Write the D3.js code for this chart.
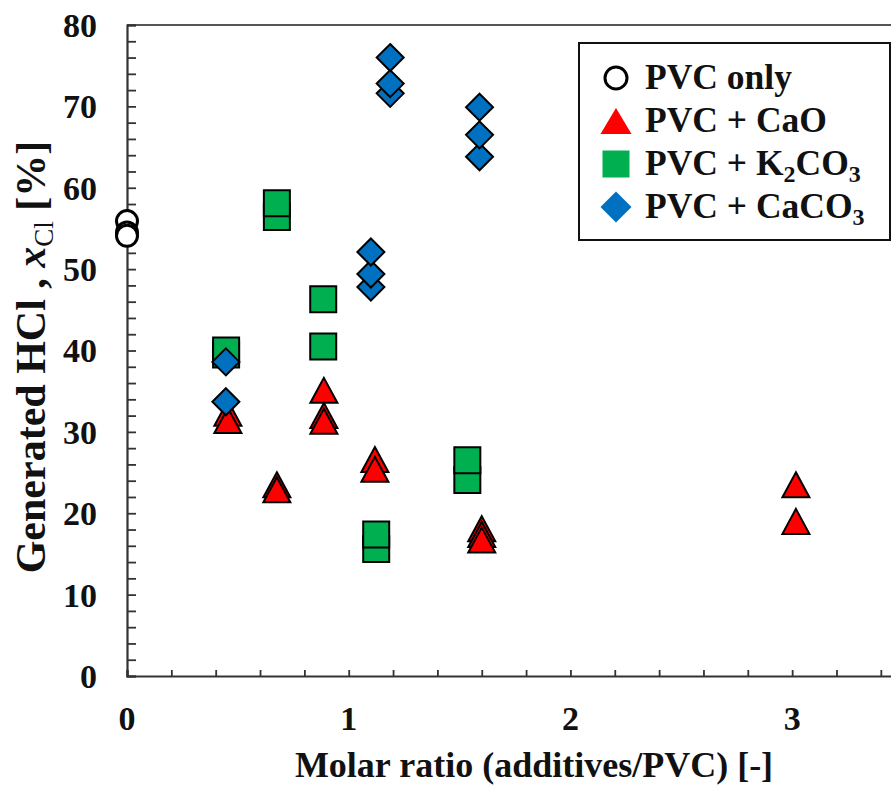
<!DOCTYPE html>
<html>
<head>
<meta charset="utf-8">
<script src="https://cdn.jsdelivr.net/npm/d3@7"></script>
<style>
  html, body { margin: 0; padding: 0; background: #fff; }
  svg { display: block; }
  text { font-family: "Liberation Serif", "Times New Roman", serif; font-weight: bold; fill: #111; }
</style>
</head>
<body>
<svg id="chart" width="891" height="785"></svg>
<script>
// Molar ratio (additives/PVC) and generated HCl [%] for each sample series
const pvcOnlyX = [0, 0, 0];
const pvcOnlyY = [55.9, 54.5, 54.1];

const caoX = [0.455, 0.455, 0.676, 0.676, 0.888, 0.888, 0.888, 1.118, 1.118, 1.60, 1.60, 1.60, 3.017, 3.017];
const caoY = [32.3, 31.4, 23.5, 22.9, 35.1, 32.0, 31.3, 26.6, 25.4, 18.1, 17.4, 16.7, 23.5, 19.0];

const k2co3X = [0.447, 0.447, 0.676, 0.676, 0.885, 0.885, 1.124, 1.124, 1.535, 1.535];
const k2co3Y = [39.5, 40.0, 56.4, 58.1, 40.5, 46.3, 15.6, 17.4, 24.1, 26.5];

const caco3X = [0.446, 0.446, 1.10, 1.10, 1.10, 1.187, 1.187, 1.187, 1.59, 1.59, 1.59];
const caco3Y = [38.6, 33.7, 47.8, 49.4, 52.1, 71.6, 72.8, 76.0, 63.8, 66.5, 69.9];

const yTicks = [0, 10, 20, 30, 40, 50, 60, 70, 80];
const xTicks = [0, 1, 2, 3];
const legendLabels = ["PVC only", "PVC + CaO", "PVC + K|2|CO|3", "PVC + CaCO|3"];

const svg = d3.select("#chart");
const x = d3.scaleLinear().domain([0, 3.5]).range([127, 903]);
const y = d3.scaleLinear().domain([0, 80]).range([676, 25]);

// Frame: top border and axes
svg.append("line").attr("x1", 127).attr("x2", 891).attr("y1", y(80)).attr("y2", y(80))
  .attr("stroke", "#555").attr("stroke-width", 2);

const yAxis = d3.axisRight(y).tickValues(d3.range(0, 81, 2)).tickSize(9).tickFormat("");
svg.append("g").attr("transform", `translate(${x(0)},0)`).call(yAxis)
  .call(g => g.select(".domain").attr("stroke", "#333").attr("stroke-width", 2.2))
  .call(g => g.selectAll(".tick line").attr("stroke", "#333").attr("stroke-width", 1.8));

const xAxis = d3.axisTop(x).tickValues(d3.range(0, 3.51, 0.2)).tickSize(6).tickFormat("");
svg.append("g").attr("transform", `translate(0,${y(0)})`).call(xAxis)
  .call(g => g.select(".domain").attr("stroke", "#333").attr("stroke-width", 2.2))
  .call(g => g.selectAll(".tick line").attr("stroke", "#333").attr("stroke-width", 1.8));

// Tick labels
svg.append("g").selectAll("text").data(yTicks).join("text")
  .attr("x", 97).attr("y", d => y(d)).attr("dy", "0.35em")
  .attr("text-anchor", "end").style("font-size", "34px").text(d => d);

svg.append("g").selectAll("text").data(xTicks).join("text")
  .attr("x", d => x(d)).attr("y", 730)
  .attr("text-anchor", "middle").style("font-size", "34px").text(d => d);

// Axis titles
svg.append("text").attr("x", 534).attr("y", 777).attr("text-anchor", "middle")
  .style("font-size", "36px").text("Molar ratio (additives/PVC) [-]");

const yTitle = svg.append("text").attr("transform", "translate(45,357) rotate(-90)")
  .attr("text-anchor", "middle").style("font-size", "42px");
yTitle.append("tspan").text("Generated HCl , ");
yTitle.append("tspan").style("font-style", "italic").text("x");
yTitle.append("tspan").attr("dy", 8).style("font-size", "27px").style("font-weight", "normal").text("Cl");
yTitle.append("tspan").attr("dy", -8).text(" [%]");

// Marker shapes
const shapes = {
  circle: r => `M${-r},0A${r},${r} 0 1,0 ${r},0A${r},${r} 0 1,0 ${-r},0Z`,
  triangle: (w, h) => `M0,${-h / 2}L${w / 2},${h / 2}L${-w / 2},${h / 2}Z`,
  square: s => `M${-s / 2},${-s / 2}h${s}v${s}h${-s}Z`,
  diamond: s => `M0,${-s / 2}L${s / 2},0L0,${s / 2}L${-s / 2},0Z`
};

function drawSeries(xs, ys, path, fill, stroke, sw) {
  svg.append("g").selectAll("path").data(xs.map((d, i) => [d, ys[i]])).join("path")
    .attr("transform", d => `translate(${x(d[0])},${y(d[1])})`)
    .attr("d", path).attr("fill", fill).attr("stroke", stroke).attr("stroke-width", sw)
    .attr("stroke-linejoin", "miter");
}

drawSeries(pvcOnlyX, pvcOnlyY, shapes.circle(10.5), "#fff", "#000", 3);
drawSeries(caoX, caoY, shapes.triangle(27, 25), "#ff0000", "#000", 2);
drawSeries(k2co3X, k2co3Y, shapes.square(26), "#00b050", "#000", 2);
drawSeries(caco3X, caco3Y, shapes.diamond(27), "#0070c0", "#000", 2);

// Legend
const lg = svg.append("g");
lg.append("rect").attr("x", 579).attr("y", 43).attr("width", 311).attr("height", 197)
  .attr("fill", "#fff").attr("stroke", "#111").attr("stroke-width", 2);

const legendShapes = [
  { d: shapes.circle(11), fill: "#fff", stroke: "#000", sw: 3 },
  { d: shapes.triangle(31, 26), fill: "#ff0000", stroke: "none", sw: 0 },
  { d: shapes.square(27), fill: "#00b050", stroke: "none", sw: 0 },
  { d: shapes.diamond(31), fill: "#0070c0", stroke: "none", sw: 0 }
];
const rowY = [78, 121, 164, 207];
legendShapes.forEach((s, i) => {
  lg.append("path").attr("transform", `translate(616,${rowY[i]})`).attr("d", s.d)
    .attr("fill", s.fill).attr("stroke", s.stroke).attr("stroke-width", s.sw);
  const t = lg.append("text").attr("x", 645).attr("y", rowY[i] + 11).style("font-size", "35.5px");
  legendLabels[i].split("|").forEach((part, j) => {
    const sub = j % 2 === 1;
    t.append("tspan").attr("dy", sub ? 7 : (j > 0 ? -7 : 0))
      .style("font-size", sub ? "24px" : "35.5px").text(part);
  });
});
</script>
</body>
</html>
